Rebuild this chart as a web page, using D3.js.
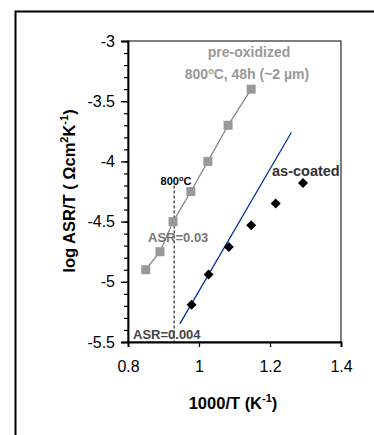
<!DOCTYPE html>
<html>
<head>
<meta charset="utf-8">
<script src="https://cdn.jsdelivr.net/npm/d3@7"></script>
<style>
  body { margin: 0; background: #fff; }
  svg { display: block; font-family: Arial, "Liberation Sans", sans-serif; }
</style>
</head>
<body>
<div id="chart"></div>
<script>
// pre-oxidized 800C 48h
const preX = [0.85, 0.89, 0.927, 0.977, 1.025, 1.082, 1.147];
const preY = [-4.9, -4.75, -4.5, -4.25, -4.0, -3.7, -3.4];
// as-coated
const coatX = [0.979, 1.027, 1.084, 1.147, 1.216, 1.293];
const coatY = [-5.19, -4.94, -4.71, -4.53, -4.35, -4.18];
// linear fit (as-coated, high temp)
const fitX = [0.946, 1.26];
const fitY = [-5.35, -3.76];
// 800C marker
const mark800 = 0.93;
const xTicks = [0.8, 1, 1.2, 1.4];
const yTicks = [-3, -3.5, -4, -4.5, -5, -5.5];

const W = 374, H = 435;
const margin = { top: 41, right: 33, bottom: 93, left: 128 };
const FONT = "Arial, 'Liberation Sans', sans-serif";

const svg = d3.select("#chart").append("svg")
  .attr("width", W)
  .attr("height", H);

// outer frame (goes off the right / bottom edge)
svg.append("path")
  .attr("d", `M15.5,${H + 5} L15.5,11.5 L${W + 5},11.5`)
  .attr("fill", "none")
  .attr("stroke", "#000")
  .attr("stroke-width", 2);

const x = d3.scaleLinear().domain([0.8, 1.4]).range([margin.left, W - margin.right]);
const y = d3.scaleLinear().domain([-5.5, -3]).range([H - margin.bottom, margin.top]);

// plot box
svg.append("rect")
  .attr("x", x(0.8)).attr("y", y(-3))
  .attr("width", x(1.4) - x(0.8)).attr("height", y(-5.5) - y(-3))
  .attr("fill", "none").attr("stroke", "#000").attr("stroke-width", 1);

// X axis
const xAxis = svg.append("g")
  .attr("transform", `translate(0,${y(-5.5)})`)
  .call(d3.axisBottom(x).tickValues(xTicks).tickFormat(d => String(d)).tickSize(5).tickPadding(14));
xAxis.select(".domain").attr("stroke-width", 1.8);
xAxis.selectAll(".tick line").attr("stroke-width", 1.3);
xAxis.selectAll("text").attr("font-size", 16).attr("font-family", FONT).attr("fill", "#000");

// Y axis minor ticks
const minor = d3.range(-5.5, -2.99, 0.1).map(v => +v.toFixed(1));
svg.append("g")
  .attr("transform", `translate(${x(0.8)},0)`)
  .call(d3.axisLeft(y).tickValues(minor).tickFormat("").tickSize(4))
  .call(g => g.select(".domain").remove())
  .selectAll("line").attr("stroke-width", 1.2);

// Y axis
const yAxis = svg.append("g")
  .attr("transform", `translate(${x(0.8)},0)`)
  .call(d3.axisLeft(y).tickValues(yTicks).tickFormat(d => String(d)).tickSize(7).tickPadding(6));
yAxis.select(".domain").attr("stroke-width", 1.8);
yAxis.selectAll(".tick line").attr("stroke-width", 1.3);
yAxis.selectAll("text").attr("font-size", 16).attr("font-family", FONT).attr("fill", "#000");

// axis titles
const xt = svg.append("text")
  .attr("x", 233).attr("y", 409)
  .attr("text-anchor", "middle")
  .attr("font-size", 16.5).attr("font-weight", "bold");
xt.append("tspan").text("1000/T (K");
xt.append("tspan").attr("dy", -7).attr("font-size", 11).text("-1");
xt.append("tspan").attr("dy", 7).text(")");

const yt = svg.append("text")
  .attr("transform", `translate(75,191) rotate(-90)`)
  .attr("text-anchor", "middle")
  .attr("font-size", 16.5).attr("font-weight", "bold");
yt.append("tspan").text("log ASR/T ( Ωcm");
yt.append("tspan").attr("dy", -7).attr("font-size", 11).text("2");
yt.append("tspan").attr("dy", 7).text("K");
yt.append("tspan").attr("dy", -7).attr("font-size", 11).text("-1");
yt.append("tspan").attr("dy", 7).text(")");

// 800C dashed line
svg.append("line")
  .attr("x1", x(mark800)).attr("x2", x(mark800))
  .attr("y1", y(-4.2)).attr("y2", y(-5.5))
  .attr("stroke", "#000").attr("stroke-width", 1)
  .attr("stroke-dasharray", "3,2");

// fit line
svg.append("line")
  .attr("x1", x(fitX[0])).attr("y1", y(fitY[0]))
  .attr("x2", x(fitX[1])).attr("y2", y(fitY[1]))
  .attr("stroke", "#0033a0").attr("stroke-width", 1.3);

// pre-oxidized line + squares
const preData = preX.map((v, i) => [v, preY[i]]);
svg.append("path")
  .datum(preData)
  .attr("fill", "none")
  .attr("stroke", "#888")
  .attr("stroke-width", 1.3)
  .attr("d", d3.line().x(d => x(d[0])).y(d => y(d[1])));
svg.selectAll(".sq").data(preData).enter().append("rect")
  .attr("class", "sq")
  .attr("x", d => x(d[0]) - 4.5).attr("y", d => y(d[1]) - 4.5)
  .attr("width", 9).attr("height", 9)
  .attr("fill", "#999");

// as-coated diamonds
const coatData = coatX.map((v, i) => [v, coatY[i]]);
svg.selectAll(".dm").data(coatData).enter().append("path")
  .attr("class", "dm")
  .attr("transform", d => `translate(${x(d[0])},${y(d[1])})`)
  .attr("d", "M0,-5 L5,0 L0,5 L-5,0 Z")
  .attr("fill", "#000");

// annotations
svg.append("text").attr("x", 249).attr("y", 57)
  .attr("text-anchor", "middle").attr("font-size", 14).attr("font-weight", "bold")
  .attr("fill", "#999").text("pre-oxidized");
const t2 = svg.append("text").attr("x", 247).attr("y", 79)
  .attr("text-anchor", "middle").attr("font-size", 14).attr("font-weight", "bold")
  .attr("fill", "#999");
t2.append("tspan").text("800");
t2.append("tspan").attr("dy", -5).attr("font-size", 9).text("o");
t2.append("tspan").attr("dy", 5).text("C, 48h (~2 µm)");

const t3 = svg.append("text").attr("x", 176).attr("y", 185)
  .attr("text-anchor", "middle").attr("font-size", 11).attr("font-weight", "bold")
  .attr("fill", "#000");
t3.append("tspan").text("800");
t3.append("tspan").attr("dy", -4).attr("font-size", 7.5).text("o");
t3.append("tspan").attr("dy", 4).text("C");

svg.append("text").attr("x", 148).attr("y", 242)
  .attr("font-size", 13).attr("font-weight", "bold")
  .attr("fill", "#777").text("ASR=0.03");
svg.append("text").attr("x", 133).attr("y", 339)
  .attr("font-size", 13).attr("font-weight", "bold")
  .attr("fill", "#444").text("ASR=0.004");
svg.append("text").attr("x", 272).attr("y", 176)
  .attr("font-size", 14.5).attr("font-weight", "bold")
  .attr("fill", "#333").text("as-coated");
</script>
</body>
</html>
